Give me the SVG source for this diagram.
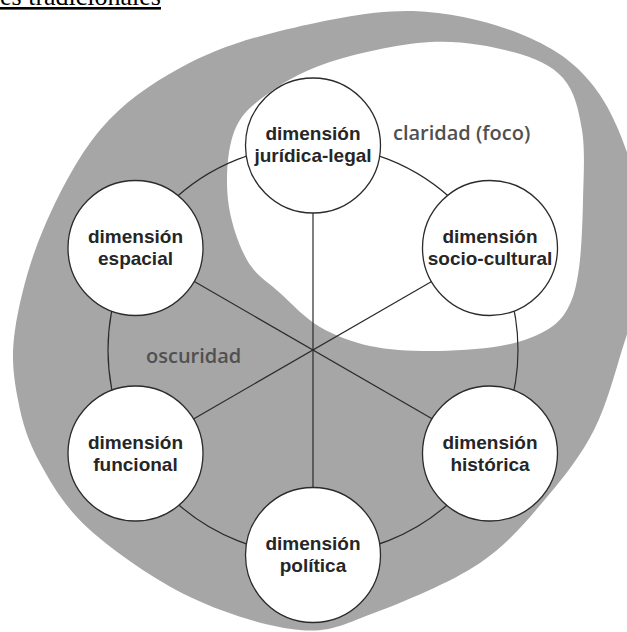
<svg xmlns="http://www.w3.org/2000/svg" width="627" height="632" viewBox="0 0 627 632">
<style>
.node{fill:#ffffff;stroke:#2b2b2b;stroke-width:1.3}
.lbl{font-family:"Liberation Sans",Arial,sans-serif;font-weight:700;font-size:19px;fill:#262626;text-anchor:middle}
.zone{font-family:"Open Sans","Noto Sans","Liberation Sans",sans-serif;font-weight:600;font-size:20px;fill:#505050}
.conn{fill:none;stroke:#2b2b2b;stroke-width:1.2}
</style>
<rect width="627" height="632" fill="#ffffff"/>
<text x="0" y="5" font-family="'Liberation Serif','Times New Roman',serif" font-size="26" fill="#000" text-decoration="underline">es tradicionales</text>
<path id="oscuridad-area" fill="#a6a6a6" d="M 413,11 C 454.7,12.2 498.8,24 530,38 C 561.2,52 581.7,68 600,95 C 618.3,122 633.8,167.5 640,200 C 646.2,232.5 640,265 637,290 C 634,315 629.2,326.7 622,350 C 614.8,373.3 606.5,405.5 594,430 C 581.5,454.5 566,474.8 547,497 C 528,519.2 508.8,543.7 480,563 C 451.2,582.3 404,601.8 374,613 C 344,624.2 330.7,632.7 300,630 C 269.3,627.3 225,613.7 190,597 C 155,580.3 115,552.3 90,530 C 65,507.7 52,484.7 40,463 C 28,441.3 22.2,422.2 18,400 C 13.8,377.8 10.8,358.3 15,330 C 19.2,301.7 28.8,263.3 43,230 C 57.2,196.7 77.2,157 100,130 C 122.8,103 150,84.5 180,68 C 210,51.5 241.2,40.5 280,31 C 318.8,21.5 371.3,9.8 413,11 Z"/>
<path id="claridad-area" fill="#ffffff" d="M 430,42 C 461,40.2 490.8,46 513,52 C 535.2,58 551.5,65 563,78 C 574.5,91 578.7,109.7 582,130 C 585.3,150.3 583.5,177 583,200 C 582.5,223 581.5,250 579,268 C 576.5,286 573.7,297.5 568,308 C 562.3,318.5 556.3,324.7 545,331 C 533.7,337.3 519.2,342.7 500,346 C 480.8,349.3 451.7,351 430,351 C 408.3,351 388.3,350 370,346 C 351.7,342 335,335.8 320,327 C 305,318.2 292.2,304.2 280,293 C 267.8,281.8 255.7,275.5 247,260 C 238.3,244.5 230.3,220.8 228,200 C 225.7,179.2 227.3,152 233,135 C 238.7,118 246.3,110 262,98 C 277.7,86 299,72.3 327,63 C 355,53.7 399,43.8 430,42 Z"/>
<text class="zone" x="393" y="140">claridad (foco)</text>
<text class="zone" x="146" y="363">oscuridad</text>
<g id="connectors">
<circle class="conn" cx="313" cy="350" r="205"/>
<line class="conn" x1="313" y1="213" x2="313" y2="488"/>
<line class="conn" x1="193.5" y1="281" x2="432.5" y2="419"/>
<line class="conn" x1="432.5" y1="281" x2="193.5" y2="419"/>
</g>
<g id="juridica-legal">
<circle class="node" cx="313" cy="145.5" r="67.5"/>
<text class="lbl"><tspan x="313" y="140">dimensión</tspan><tspan x="313" y="162">jurídica-legal</tspan></text>
</g>
<g id="socio-cultural">
<circle class="node" cx="490" cy="248" r="67.5"/>
<text class="lbl"><tspan x="490" y="242.5">dimensión</tspan><tspan x="490" y="264.5">socio-cultural</tspan></text>
</g>
<g id="historica">
<circle class="node" cx="490" cy="453.5" r="67.5"/>
<text class="lbl"><tspan x="490" y="448.5">dimensión</tspan><tspan x="490" y="470.5">histórica</tspan></text>
</g>
<g id="politica">
<circle class="node" cx="313" cy="555" r="67.5"/>
<text class="lbl"><tspan x="313" y="550">dimensión</tspan><tspan x="313" y="572">política</tspan></text>
</g>
<g id="funcional">
<circle class="node" cx="135.5" cy="453.5" r="67.5"/>
<text class="lbl"><tspan x="135.5" y="448.5">dimensión</tspan><tspan x="135.5" y="470.5">funcional</tspan></text>
</g>
<g id="espacial">
<circle class="node" cx="135.5" cy="248" r="67.5"/>
<text class="lbl"><tspan x="135.5" y="242.5">dimensión</tspan><tspan x="135.5" y="264.5">espacial</tspan></text>
</g>
</svg>
